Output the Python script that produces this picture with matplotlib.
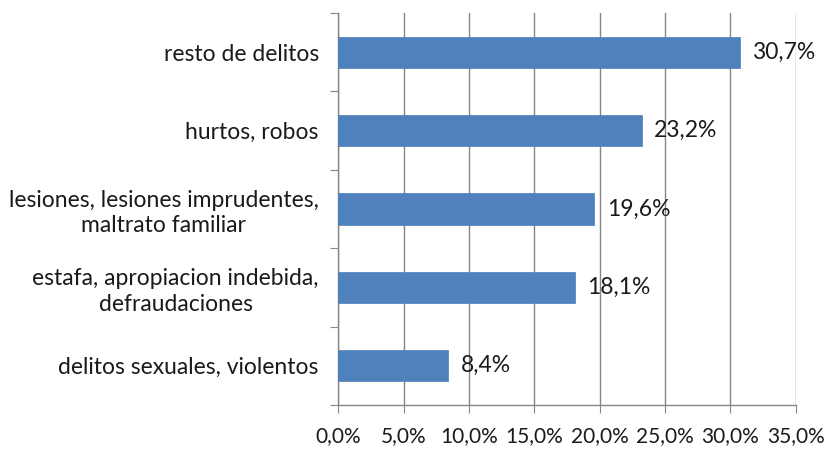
import numpy as np
import matplotlib.pyplot as plt

# datos (de abajo hacia arriba)
categorias = [
    "delitos sexuales, violentos",
    "estafa, apropiacion indebida,\ndefraudaciones",
    "lesiones, lesiones imprudentes,\nmaltrato familiar",
    "hurtos, robos",
    "resto de delitos",
]
porcentajes = [8.4, 18.1, 19.6, 23.2, 30.7]
ticks_x = [0, 5, 10, 15, 20, 25, 30, 35]

plt.rcParams['font.family'] = ['Lato', 'DejaVu Sans']
fs = 16.5

fig = plt.figure(figsize=(8.29, 4.49), dpi=100)
ax = fig.add_axes([0.408, 0.098, 0.552, 0.873])

y = np.arange(len(categorias))
ax.barh(y, porcentajes, height=0.4, color='#4F81BD', edgecolor='#4A7EBB', linewidth=0.5, zorder=3)

for yi, v in zip(y, porcentajes):
    ax.annotate(f"{v:.1f}%".replace('.', ','), (v, yi), xytext=(9, 0),
                textcoords='offset points', va='center', ha='left', fontsize=fs,
                color='#1a1a1a', zorder=4)

ax.set_xlim(0, 35)
ax.set_ylim(-0.5, len(categorias) - 0.5)
ax.set_xticks(ticks_x)
ax.set_xticklabels([f"{t:.1f}%".replace('.', ',') for t in ticks_x], fontsize=15, color='#1a1a1a')

# ticks mayores en los limites de categoria, etiquetas en el centro
ax.set_yticks(np.arange(-0.5, len(categorias), 1.0))
ax.set_yticklabels([])
ax.set_yticks(y, minor=True)
ax.set_yticklabels(categorias, minor=True, fontsize=fs, color='#1a1a1a', linespacing=1.25)
for lbl in ax.get_yticklabels(minor=True):
    lbl.set_multialignment('center')
ax.tick_params(axis='y', which='minor', length=0, pad=14)
ax.tick_params(axis='y', which='major', length=6, color='#868686', direction='out')
ax.tick_params(axis='x', length=6, color='#868686', direction='out', pad=9)

ax.grid(axis='x', color='#868686', linewidth=1.0, zorder=0)
for s in ['top', 'right']:
    ax.spines[s].set_visible(False)
for s in ['left', 'bottom']:
    ax.spines[s].set_color('#868686')
    ax.spines[s].set_linewidth(1.0)

plt.savefig('out.png', dpi=100)
plt.close()
